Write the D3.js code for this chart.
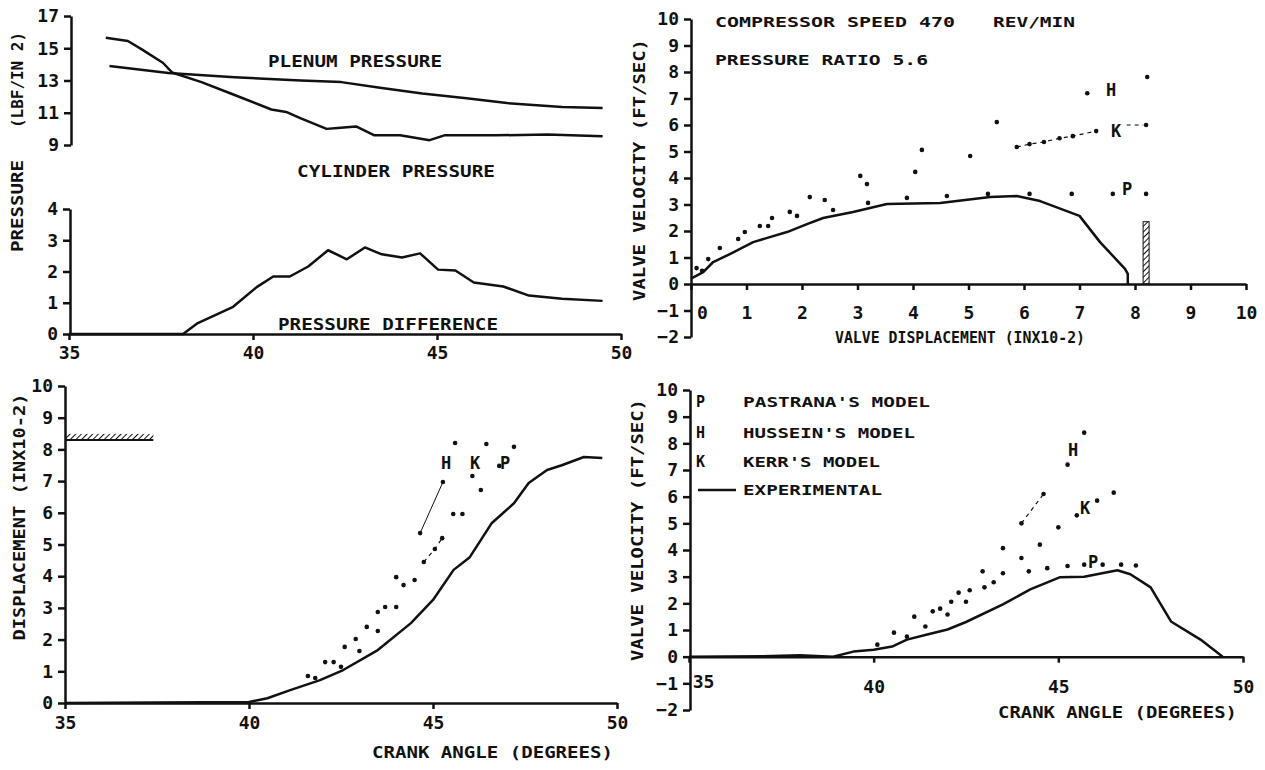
<!DOCTYPE html>
<html>
<head>
<meta charset="utf-8">
<script src="https://cdn.jsdelivr.net/npm/d3@7"></script>
<style>
body { margin: 0; background: #fff; }
</style>
</head>
<body>
<div id="chart"></div>
<script>
// ---- top left: pressures vs crank angle
const plenum = [[36.1,13.9],[37.7,13.46],[39.5,13.2],[41.3,13.0],[42.4,12.9],[43.45,12.55],[44.6,12.2],[45.8,11.9],[46.9,11.6],[48.4,11.35],[49.5,11.3]];
const cylinder = [[36.0,15.65],[36.6,15.45],[37.0,14.9],[37.55,14.1],[37.8,13.5],[38.6,12.9],[39.5,12.1],[40.5,11.2],[40.9,11.05],[41.3,10.65],[42.0,10.0],[42.3,10.05],[42.8,10.15],[43.3,9.6],[44.0,9.6],[44.8,9.3],[45.2,9.6],[46.6,9.6],[48.0,9.65],[49.5,9.55]];
const pressDiff = [[35,0],[38.1,0],[38.5,0.35],[39.46,0.87],[40.1,1.5],[40.55,1.84],[41.0,1.84],[41.5,2.16],[42.04,2.68],[42.55,2.39],[43.04,2.77],[43.5,2.55],[44.05,2.45],[44.54,2.58],[45.03,2.06],[45.5,2.03],[46.0,1.65],[46.8,1.52],[47.5,1.23],[48.4,1.13],[49.5,1.06]];

// ---- top right: valve velocity vs valve displacement
const expVelDisp = [[0,0.2],[0.22,0.45],[0.4,0.83],[0.7,1.13],[1.12,1.58],[1.42,1.77],[1.73,1.96],[2.09,2.26],[2.38,2.49],[2.92,2.72],[3.53,3.02],[4.49,3.06],[5.39,3.28],[5.87,3.32],[6.29,3.13],[7.0,2.57],[7.37,1.58],[7.82,0.57],[7.87,0.38],[7.87,0]];
const hVelDisp = [[0.1,0.6],[0.52,1.36],[0.97,1.96],[1.46,2.49],[2.14,3.28],[3.05,4.08],[4.16,5.06],[5.51,6.11],[7.14,7.2],[8.22,7.81]];
const kVelDisp = [[0.31,0.94],[0.85,1.7],[1.39,2.19],[1.78,2.72],[2.41,3.17],[3.17,3.77],[4.04,4.23],[5.03,4.83],[5.87,5.17],[6.1,5.28],[6.36,5.36],[6.64,5.5],[6.88,5.58],[7.3,5.77],[8.2,6.0]];
const pVelDisp = [[0.2,0.5],[1.24,2.19],[1.91,2.57],[2.56,2.79],[3.19,3.06],[3.89,3.25],[4.61,3.32],[5.35,3.4],[6.1,3.4],[6.86,3.4],[7.6,3.4],[8.2,3.4]];
const stopDisp = 8.2, stopHeight = 2.35;

// ---- bottom left: displacement vs crank angle
const expDisp = [[35,0],[40,0.03],[40.5,0.15],[41.1,0.4],[41.93,0.72],[42.56,1.04],[43.5,1.67],[44.4,2.52],[45.0,3.25],[45.56,4.2],[46.0,4.6],[46.6,5.68],[47.2,6.3],[47.6,6.94],[48.1,7.35],[48.5,7.5],[49.1,7.76],[49.6,7.73]];
const hDisp = [[41.6,0.85],[42.07,1.29],[42.6,1.77],[43.2,2.4],[43.7,3.03],[44.0,3.97],[44.65,5.36],[45.27,6.97],[45.6,8.2]];
const kDisp = [[41.8,0.79],[42.3,1.29],[42.9,2.02],[43.5,2.87],[44.2,3.72],[44.75,4.45],[45.05,4.86],[45.25,5.2],[45.55,5.96],[46.07,7.16],[46.45,8.17]];
const pDisp = [[42.5,1.14],[43.0,1.64],[43.5,2.27],[44.0,3.03],[44.5,3.88],[45.8,5.96],[46.3,6.72],[46.8,7.48],[47.2,8.08]];
const stopAngleEnd = 37.4, stopLevel = 8.3;

// ---- bottom right: valve velocity vs crank angle
const expVel = [[35,0],[37.0,0.02],[38.0,0.05],[38.9,0],[39.45,0.19],[40,0.26],[40.5,0.38],[40.9,0.64],[41.45,0.83],[42.0,1.02],[42.5,1.3],[43.5,1.96],[44.24,2.52],[45.05,2.98],[45.7,3.0],[46.6,3.24],[46.95,3.09],[47.5,2.6],[48.05,1.32],[48.85,0.64],[49.45,0]];
const hVel = [[40.55,0.9],[41.1,1.5],[41.8,1.8],[42.3,2.4],[42.95,3.2],[43.5,4.07],[44.0,5.0],[44.6,6.1],[45.25,7.2],[45.7,8.4]];
const kVel = [[40.9,0.75],[41.6,1.7],[42.1,2.06],[42.6,2.49],[43.25,2.79],[44.0,3.7],[44.5,4.2],[45.0,4.85],[45.5,5.3],[46.05,5.85],[46.5,6.15]];
const pVel = [[40.1,0.45],[41.4,1.13],[42.0,1.58],[42.5,2.06],[43.0,2.6],[43.5,3.13],[44.2,3.2],[44.7,3.32],[45.25,3.4],[45.7,3.45],[46.2,3.45],[46.7,3.45],[47.1,3.42]];

const angleTicks = [35, 40, 45, 50];
const plenumTicks = [9, 11, 13, 15, 17];
const diffTicks = [0, 1, 2, 3, 4];
const velTicks = [-2, -1, 0, 1, 2, 3, 4, 5, 6, 7, 8, 9, 10];
const dispTicks = [0, 1, 2, 3, 4, 5, 6, 7, 8, 9, 10];
const legendKeys = ["P", "H", "K"];
const legendNames = ["PASTRANA'S MODEL", "HUSSEIN'S MODEL", "KERR'S MODEL", "EXPERIMENTAL"];

const FONT = "'DejaVu Sans Mono', monospace";
const INK = "#111";

const svg = d3.select("#chart").append("svg")
    .attr("width", 1265)
    .attr("height", 770)
    .style("background", "#fff");

const defs = svg.append("defs");
const hatch = defs.append("pattern")
    .attr("id", "hatch")
    .attr("patternUnits", "userSpaceOnUse")
    .attr("width", 4).attr("height", 4)
    .attr("patternTransform", "rotate(45)");
hatch.append("line").attr("x1", 0).attr("y1", 0).attr("x2", 0).attr("y2", 4)
    .attr("stroke", INK).attr("stroke-width", 2);

// scales
const xTL = d3.scaleLinear().domain([35, 50]).range([69, 621]);
const yPres = d3.scaleLinear().domain([9, 17]).range([145, 16]);
const yDiff = d3.scaleLinear().domain([0, 4]).range([334, 209]);

const xTR = d3.scaleLinear().domain([0, 10]).range([691, 1246]);
const yTR = d3.scaleLinear().domain([-2, 10]).range([337, 19]);

const xBL = d3.scaleLinear().domain([35, 50]).range([65, 617]);
const yBL = d3.scaleLinear().domain([0, 10]).range([703, 386]);

const xBR = d3.scaleLinear().domain([35, 50]).range([689, 1243]);
const yBR = d3.scaleLinear().domain([-2, 10]).range([710, 390]);

function styleAxis(g, size) {
    g.attr("font-family", FONT).attr("font-size", size).attr("font-weight", "bold");
    g.selectAll("path, line").attr("stroke", INK).attr("stroke-width", 2.5);
    g.selectAll("text").attr("fill", INK).attr("font-weight", "bold");
}

function yAxis(scale, x, ticks) {
    return svg.append("g")
        .attr("transform", `translate(${x},0)`)
        .call(d3.axisLeft(scale).tickValues(ticks).tickSize(7).tickPadding(5).tickSizeOuter(0).tickFormat(d3.format("d")))
        .call(g => styleAxis(g, 18));
}

function xAxis(scale, y, ticks, pad) {
    return svg.append("g")
        .attr("transform", `translate(0,${y})`)
        .call(d3.axisBottom(scale).tickValues(ticks).tickSize(6).tickPadding(pad).tickSizeOuter(0).tickFormat(d3.format("d")))
        .call(g => styleAxis(g, 18));
}

function curve(data, xs, ys, w) {
    svg.append("path")
        .datum(data)
        .attr("fill", "none")
        .attr("stroke", INK)
        .attr("stroke-width", w || 2.5)
        .attr("stroke-linejoin", "round")
        .attr("d", d3.line().x(d => xs(d[0])).y(d => ys(d[1])));
}

function dashed(data, xs, ys) {
    svg.append("path")
        .datum(data)
        .attr("fill", "none")
        .attr("stroke", INK)
        .attr("stroke-width", 1.2)
        .attr("stroke-dasharray", "4,4")
        .attr("d", d3.line().x(d => xs(d[0])).y(d => ys(d[1])));
}

function dots(data, xs, ys) {
    svg.append("g").selectAll("circle")
        .data(data)
        .join("circle")
        .attr("cx", d => xs(d[0]))
        .attr("cy", d => ys(d[1]))
        .attr("r", 2.3)
        .attr("fill", INK);
}

function label(txt, x, y, size, len, rotate) {
    const t = svg.append("text")
        .attr("font-family", FONT)
        .attr("font-weight", "bold")
        .attr("font-size", size)
        .attr("fill", INK)
        .attr("dominant-baseline", "central")
        .text(txt);
    if (len) t.attr("textLength", len).attr("lengthAdjust", "spacingAndGlyphs");
    if (rotate) {
        t.attr("text-anchor", "middle").attr("transform", `translate(${x},${y}) rotate(-90)`);
    } else {
        t.attr("x", x).attr("y", y);
    }
    return t;
}

// ================= top left
yAxis(yPres, 71, plenumTicks);
yAxis(yDiff, 70, diffTicks);
xAxis(xTL, yDiff(0), angleTicks, 6);
curve(plenum, xTL, yPres);
curve(cylinder, xTL, yPres);
curve(pressDiff, xTL, yDiff);
label("PLENUM PRESSURE", 268, 62, 15, 174);
label("CYLINDER PRESSURE", 297, 172, 15, 198);
label("PRESSURE DIFFERENCE", 278, 325, 15, 220);
label("PRESSURE", 18, 206, 15, 92, true);
label("(LBF/IN 2)", 18, 80, 15, 96, true);

// ================= top right
yAxis(yTR, 691, velTicks);
const axTR = xAxis(xTR, yTR(0), dispTicks, 16);
axTR.selectAll(".tick text").filter(d => d === 0).attr("dx", 11);
curve(expVelDisp, xTR, yTR);
svg.append("rect")
    .attr("x", xTR(stopDisp) - 3)
    .attr("y", yTR(stopHeight))
    .attr("width", 6)
    .attr("height", yTR(0) - yTR(stopHeight))
    .attr("fill", "url(#hatch)")
    .attr("stroke", INK)
    .attr("stroke-width", 1);
dots(hVelDisp, xTR, yTR);
dots(kVelDisp, xTR, yTR);
dots(pVelDisp, xTR, yTR);
dashed(kVelDisp.filter(d => d[0] >= 5.87 && d[0] <= 7.3), xTR, yTR);
dashed([[7.85, 6.0], [8.15, 6.0]], xTR, yTR);
label("H", 1106, 90, 17);
label("K", 1111, 131, 17);
label("P", 1122, 189, 17);
label("COMPRESSOR SPEED  470", 715, 22, 14, 240);
label("REV/MIN", 993, 22, 14, 82);
label("PRESSURE RATIO  5.6", 715, 60, 14, 213);
label("VALVE VELOCITY  (FT/SEC)", 640, 170, 15, 262, true);
label("VALVE DISPLACEMENT  (INX10-2)", 835, 338, 15, 250);

// ================= bottom left
yAxis(yBL, 65, dispTicks);
xAxis(xBL, yBL(0), angleTicks, 7);
svg.append("rect")
    .attr("x", xBL(35))
    .attr("y", yBL(stopLevel) - 6)
    .attr("width", xBL(stopAngleEnd) - xBL(35))
    .attr("height", 6)
    .attr("fill", "url(#hatch)");
svg.append("line")
    .attr("x1", xBL(35)).attr("x2", xBL(stopAngleEnd))
    .attr("y1", yBL(stopLevel)).attr("y2", yBL(stopLevel))
    .attr("stroke", INK).attr("stroke-width", 2);
curve(expDisp, xBL, yBL);
dots(hDisp, xBL, yBL);
dots(kDisp, xBL, yBL);
dots(pDisp, xBL, yBL);
curve(hDisp.filter(d => d[0] >= 44.65 && d[0] <= 45.27), xBL, yBL, 1);
dashed(kDisp.filter(d => d[0] >= 44.75 && d[0] <= 45.25), xBL, yBL);
label("H", 441, 463, 17);
label("K", 470, 463, 17);
label("P", 500, 463, 17);
label("DISPLACEMENT  (INX10-2)", 20, 517, 15, 247, true);
label("CRANK ANGLE  (DEGREES)", 372, 753, 15, 241);

// ================= bottom right
yAxis(yBR, 690, velTicks);
const axBR = xAxis(xBR, yBR(0), angleTicks, 18);
axBR.selectAll(".tick text").filter(d => d === 35).attr("dx", 14).attr("dy", "0.4em");
curve(expVel, xBR, yBR);
dots(hVel, xBR, yBR);
dots(kVel, xBR, yBR);
dots(pVel, xBR, yBR);
dashed(hVel.filter(d => d[0] >= 44.0 && d[0] <= 44.6), xBR, yBR);
label("H", 1068, 450, 17);
label("K", 1080, 508, 17);
label("P", 1088, 562, 17);
label("VALVE VELOCITY  (FT/SEC)", 638, 530, 15, 262, true);
label("CRANK ANGLE  (DEGREES)", 998, 713, 15, 239);

// legend
const legY = [402, 433, 462, 490];
const legLen = [187, 172, 137, 139];
legendKeys.forEach((k, i) => label(k, 696, legY[i], 15));
legendNames.forEach((n, i) => label(n, 743, legY[i], 14, legLen[i]));
svg.append("line")
    .attr("x1", 698).attr("x2", 736)
    .attr("y1", legY[3]).attr("y2", legY[3])
    .attr("stroke", INK).attr("stroke-width", 2.5);
</script>
</body>
</html>
